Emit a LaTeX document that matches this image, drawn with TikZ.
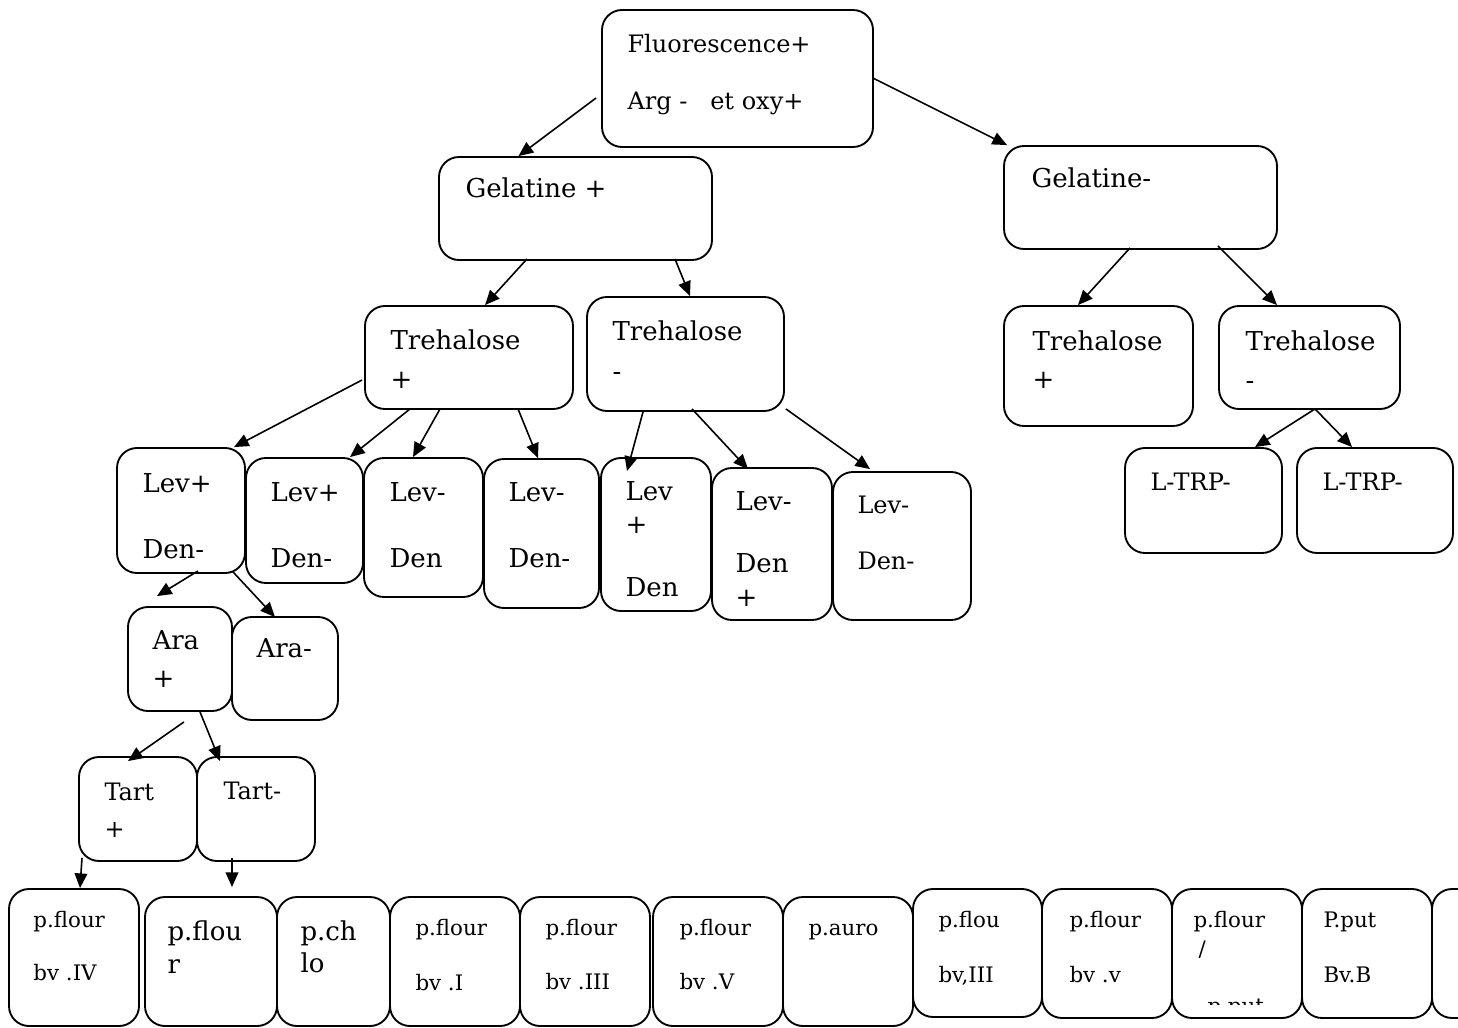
\documentclass[tikz,border=0pt]{standalone}
\usepackage{fontspec}
\setmainfont{DejaVu Serif}
\usetikzlibrary{arrows.meta,fit,calc}

\tikzset{every picture/.style={line width=0.75pt}}
\tikzset{
  box/.style={draw, rounded corners=15pt, line width=1.4pt, inner sep=0pt},
  arr/.style={-{Triangle[length=11pt,width=9.5pt]}, line width=1.2pt},
  txtL/.style={anchor=base west, inner sep=0pt, font=\fontsize{19.5}{23}\selectfont},
  txtM/.style={anchor=base west, inner sep=0pt, font=\fontsize{18}{22}\selectfont},
  txtS/.style={anchor=base west, inner sep=0pt, font=\fontsize{16}{19}\selectfont},
}

\begin{document}
\begin{tikzpicture}[x=0.75pt,y=0.75pt,yscale=-1,xscale=1]
\clip (0,0) rectangle (1458,1027);

%Boxes, top levels
\node[box, fit={(602,10) (873,147)}] (root) {};
\node[box, fit={(439,157) (712,260)}] (gelP) {};
\node[box, fit={(1004,146) (1277,249)}] (gelM) {};
\node[box, fit={(365,306) (573,409)}] (treP) {};
\node[box, fit={(587,297) (784,411)}] (treM) {};
\node[box, fit={(1004,306) (1193,426)}] (treP2) {};
\node[box, fit={(1219,306) (1400,409)}] (treM2) {};
%Boxes, Lev / Den
\node[box, fit={(117,448) (245,573)}] (lev1) {};
\node[box, fit={(246,458) (363,583)}] (lev2) {};
\node[box, fit={(364,458) (483,597)}] (lev3) {};
\node[box, fit={(484,459) (599,608)}] (lev4) {};
\node[box, fit={(601,458) (711,611)}] (lev5) {};
\node[box, fit={(712,468) (832,620)}] (lev6) {};
\node[box, fit={(833,472) (971,620)}] (lev7) {};
\node[box, fit={(1125,448) (1282,553)}] (ltrp1) {};
\node[box, fit={(1297,448) (1453,553)}] (ltrp2) {};
%Boxes, Ara / Tart
\node[box, fit={(128,607) (232,711)}] (araP) {};
\node[box, fit={(232,617) (338,720)}] (araM) {};
\node[box, fit={(79,757) (197,861)}] (tartP) {};
\node[box, fit={(197,757) (315,861)}] (tartM) {};
%Boxes, bottom row
\node[box, fit={(9,889) (139,1026)}] (b1) {};
\node[box, fit={(145,897) (277,1026)}] (b2) {};
\node[box, fit={(277,897) (390,1026)}] (b3) {};
\node[box, fit={(390,897) (520,1026)}] (b4) {};
\node[box, fit={(520,897) (650,1026)}] (b5) {};
\node[box, fit={(653,897) (783,1026)}] (b6) {};
\node[box, fit={(783,897) (913,1026)}] (b7) {};
\node[box, fit={(913,889) (1042,1017)}] (b8) {};
\node[box, fit={(1042,889) (1172,1018)}] (b9) {};
\node[box, fit={(1172,889) (1302,1018)}] (b10) {};
\node[box, fit={(1302,889) (1432,1018)}] (b11) {};
\node[box, fit={(1432,889) (1560,1018)}] (b12) {};

%Arrows
\draw[arr] ($(root.west)+(-5,19.5)$) -- ($(gelP.north)+(-57,0)$);
\draw[arr] (root.east) -- ($(gelM.north west)+(4,0)$);
\draw[arr] ($(gelP.south)+(-48.5,-2)$) -- ($(treP.north)+(16,0)$);
\draw[arr] ($(gelP.south)+(99.5,-2)$) -- ($(treM.north)+(4.5,0)$);
\draw[arr] ($(gelM.south)+(-10.5,-2)$) -- ($(treP2.north)+(-20.5,0)$);
\draw[arr] ($(gelM.south)+(77.5,-4)$) -- ($(treM2.north)+(-32.5,0)$);
\draw[arr] ($(treM2.south)+(5.5,-1)$) -- ($(ltrp1.north)+(51.5,0)$);
\draw[arr] ($(treM2.south)+(5.5,-1)$) -- ($(ltrp2.north)+(-23,0)$);
\draw[arr] ($(treP.west)+(-2,22.5)$) -- ($(lev1.north)+(53,0)$);
\draw[arr] ($(treP.south)+(-59,-1)$) -- ($(lev2.north)+(45.5,0)$);
\draw[arr] ($(treP.south)+(-29,-1)$) -- ($(lev3.north)+(-10.5,0)$);
\draw[arr] ($(treP.south)+(49,-1)$) -- ($(lev4.north)+(-3.5,0)$);
\draw[arr] ($(treM.south)+(-42.5,0)$) -- ($(lev5.north)+(-29,14)$);
\draw[arr] ($(treM.south)+(6.5,-3)$) -- ($(lev6.north)+(-24,2)$);
\draw[arr] ($(treM.south east)+(1,-3)$) -- ($(lev7.north)+(-32,-2)$);
\draw[arr] ($(lev1.south)+(17,-3)$) -- ($(araP.north)+(-23,-10)$);
\draw[arr] ($(lev1.south)+(52,-2)$) -- ($(araM.north)+(-10,1)$);
\draw[arr] ($(araP.south)+(4,10)$) -- ($(tartP.north)+(-10,5)$);
\draw[arr] ($(araP.south)+(20,0)$) -- ($(tartM.north)+(-36,5)$);
\draw[arr] ($(tartP.south)+(-56,-4)$) -- ($(b1.north)+(6,0)$);
\draw[arr] ($(tartM.south)+(-24,-4)$) -- ($(b2.north)+(21,-9)$);

%Texts
\node[txtM] (rootT1) at (627,53) {Fluorescence+};
\node[txtM] (rootT2) at (627,110) {Arg -\ \ \ et\ oxy+};
\node[txtL] (gelPT) at (465,197) {Gelatine +};
\node[txtL] (gelMT) at (1031,187) {Gelatine-};
\node[txtL] (trePT1) at (390,349) {Trehalose};
\node[txtL] (trePT2) at (390,388) {+};
\node[txtL] (treMT1) at (612,340) {Trehalose};
\node[txtL] (treMT2) at (612,380) {-};
\node[txtL] (treP2T1) at (1032,350) {Trehalose};
\node[txtL] (treP2T2) at (1032,388) {+};
\node[txtL] (treM2T1) at (1245,350) {Trehalose};
\node[txtL] (treM2T2) at (1245,389) {-};
\node[txtL] (lev1T1) at (142,492) {Lev+};
\node[txtL] (lev1T2) at (142,558) {Den-};
\node[txtL] (lev2T1) at (270,501) {Lev+};
\node[txtL] (lev2T2) at (270,567) {Den-};
\node[txtL] (lev3T1) at (389,501) {Lev-};
\node[txtL] (lev3T2) at (389,567) {Den};
\node[txtL] (lev4T1) at (508,501) {Lev-};
\node[txtL] (lev4T2) at (508,567) {Den-};
\node[txtL] (lev5T1) at (625,500) {Lev};
\node[txtL] (lev5T2) at (625,533) {+};
\node[txtL] (lev5T3) at (625,596) {Den};
\node[txtL] (lev6T1) at (735,510) {Lev-};
\node[txtL] (lev6T2) at (735,572) {Den};
\node[txtL] (lev6T3) at (735,606) {+};
\node[txtM] (lev7T1) at (857,513) {Lev-};
\node[txtM] (lev7T2) at (857,569) {Den-};
\node[txtM] (ltrp1T) at (1150,490) {L-TRP-};
\node[txtM] (ltrp2T) at (1322,490) {L-TRP-};
\node[txtL] (araPT1) at (152,649) {Ara};
\node[txtL] (araPT2) at (152,687) {+};
\node[txtL] (araMT) at (256,657) {Ara-};
\node[txtM] (tartPT1) at (104,800) {Tart};
\node[txtM] (tartPT2) at (104,837) {+};
\node[txtM] (tartMT) at (223,799) {Tart-};
\node[txtS] (b1T1) at (33,927) {p.flour};
\node[txtS] (b1T2) at (33,980) {bv .IV};
\node[txtL] (b2T1) at (167,940) {p.flou};
\node[txtL] (b2T2) at (167,973) {r};
\node[txtL] (b3T1) at (300,940) {p.ch};
\node[txtL] (b3T2) at (300,972) {lo};
\node[txtS] (b4T1) at (415,935) {p.flour};
\node[txtS] (b4T2) at (415,990) {bv .I};
\node[txtS] (b5T1) at (545,935) {p.flour};
\node[txtS] (b5T2) at (545,989) {bv .III};
\node[txtS] (b6T1) at (679,935) {p.flour};
\node[txtS] (b6T2) at (679,989) {bv .V};
\node[txtS] (b7T) at (808,935) {p.auro};
\node[txtS] (b8T1) at (938,927) {p.flou};
\node[txtS] (b8T2) at (938,982) {bv,III};
\node[txtS] (b9T1) at (1069,927) {p.flour};
\node[txtS] (b9T2) at (1069,982) {bv .v};
\node[txtS] (b10T1) at (1193,927) {p.flour};
\node[txtS] (b10T2) at (1198,956) {/};
\begin{scope}
\clip (1172,889) rectangle (1302,1004.5);
\node[txtS] (b10T3) at (1207,1013) {p.put};
\end{scope}
\node[txtS] (b11T1) at (1323,927) {P.put};
\node[txtS] (b11T2) at (1323,982) {Bv.B};

\end{tikzpicture}
\end{document}
